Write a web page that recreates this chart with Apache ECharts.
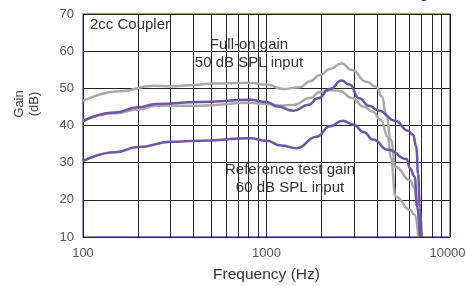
<!DOCTYPE html>
<html>
<head>
<meta charset="utf-8">
<script src="https://cdn.jsdelivr.net/npm/echarts@6/dist/echarts.min.js"></script>
<style>
  html, body { margin: 0; padding: 0; background: #fff; }
  #chart { width: 466px; height: 286px; }
</style>
</head>
<body>
<div id="chart"></div>
<script>
// [frequency Hz, gain dB]
var fullOnGray = [[100,46.6],[160,49.2],[240,50.7],[300,50.5],[400,50.9],[510,51.3],[812,51.5],[1000,51.0],[1233,49.8],[1523,50.3],[1725,51.9],[1957,53.6],[2219,55.2],[2566,56.7],[2920,54.9],[3500,51.8],[3960,50.4],[4260,47.8],[4500,42.4],[4770,36.1],[5040,28.9],[6053,25.3],[6420,23.2],[6620,18.2],[6850,10]];
var refGray = [[100,41.2],[150,43.3],[200,44.3],[250,45.3],[434,45.3],[812,46.1],[1000,45.8],[1185,45.4],[1400,45.5],[1725,47.4],[1957,49.0],[2219,49.5],[2506,49.3],[2920,47.4],[3380,45.1],[3800,43.7],[4200,41.5],[4580,37.0],[4770,31.2],[5050,20.9],[6050,17.3],[6420,16.0],[6720,10]];
var fullOnPurple = [[100,41.2],[150,43.5],[200,44.9],[250,45.8],[434,46.3],[812,46.9],[1000,46.3],[1150,45.1],[1400,44.0],[1700,45.6],[1900,47.3],[2219,49.8],[2566,52.1],[2833,51.0],[3200,47.3],[3620,45.3],[4092,44.0],[5050,41.2],[5900,38.6],[6300,37.5],[6550,34.3],[6700,27],[6850,18],[7000,10]];
var refPurple = [[100,30.4],[150,32.8],[200,34.2],[300,35.6],[434,35.9],[812,36.6],[1000,35.9],[1200,34.6],[1460,33.9],[1874,37.0],[2219,39.8],[2600,41.3],[2960,40.3],[3400,38.2],[3800,36.2],[4600,33.5],[5800,31.0],[6050,28.5],[6420,26.2],[6620,18.2],[6850,10]];

var minorFreqs = [200,300,400,500,600,700,800,900,2000,3000,4000,5000,6000,7000,8000,9000];

var purple = '#6e55a6';
var gray = '#a9a9a9';
var border = '#7b67aa';
var font = 'Liberation Sans, Arial, Helvetica, sans-serif';

var myChart = echarts.init(document.getElementById('chart'));

function curve(data, color) {
    return {
        type: 'line',
        data: data,
        showSymbol: false,
        smooth: 0.5,
        smoothMonotone: 'x',
        lineStyle: { color: color, width: 2.5 },
        z: 3
    };
}

var option = {
    animation: false,
    textStyle: { fontFamily: font },
    grid: {
        left: 83, right: 16, top: 14, bottom: 49,
        outerBoundsMode: 'none',
        containLabel: false,
        show: true,
        borderColor: border,
        borderWidth: 1.5
    },
    xAxis: {
        type: 'log',
        logBase: 10,
        min: 100,
        max: 10000,
        name: 'Frequency (Hz)',
        nameLocation: 'middle',
        nameGap: 30,
        nameTextStyle: { color: '#333', fontSize: 15.5, fontFamily: font },
        axisLine: { show: false },
        axisTick: { show: false },
        axisLabel: {
            color: '#555', fontSize: 13, margin: 10, fontFamily: font,
            formatter: function (v) {
                var s = String(Math.round(v));
                return v >= 10000 ? '{r|' + s + '}' : s;
            },
            rich: { r: { color: '#555', fontSize: 13, fontFamily: font, padding: [0, 5, 0, 0] } }
        },
        splitLine: { show: true, lineStyle: { color: '#222', width: 1 } }
    },
    yAxis: {
        type: 'value',
        min: 10,
        max: 70,
        interval: 10,
        axisLine: { show: false },
        axisTick: { show: false },
        axisLabel: { color: '#555', fontSize: 13, margin: 9, fontFamily: font },
        splitLine: { show: true, lineStyle: { color: '#222', width: 1 } }
    },
    graphic: [
        { type: 'text', left: 90, top: 17, style: { text: '2cc Coupler', fill: '#333', fontSize: 15, fontFamily: font } },
        { type: 'text', x: 249, y: 36, style: { text: 'Full-on gain\n50 dB SPL input', fill: '#333', fontSize: 15, lineHeight: 18, fontFamily: font, align: 'center', verticalAlign: 'top' } },
        { type: 'text', x: 290, y: 161, style: { text: 'Reference test gain\n60 dB SPL input', fill: '#333', fontSize: 15, lineHeight: 18, fontFamily: font, align: 'center', verticalAlign: 'top' } },
        { type: 'text', x: 27, y: 104, rotation: Math.PI / 2, style: { text: 'Gain\n(dB)', fill: '#444', fontSize: 13, lineHeight: 15, fontFamily: font, align: 'center', verticalAlign: 'middle' } },
        { type: 'text', x: 428, y: -14, style: { text: 'Fitting', fill: '#333', fontSize: 15, fontFamily: font, align: 'right', verticalAlign: 'top' } }
    ],
    series: [
        {
            type: 'line',
            data: [],
            z: 1,
            markLine: {
                silent: true,
                symbol: 'none',
                z: 1,
                label: { show: false },
                lineStyle: { color: '#222', width: 1, type: 'solid' },
                data: minorFreqs.map(function (f) { return { xAxis: f }; })
            }
        },
        curve(fullOnGray, gray),
        curve(refGray, gray),
        curve(fullOnPurple, purple),
        curve(refPurple, purple)
    ]
};

myChart.setOption(option);
</script>
</body>
</html>
